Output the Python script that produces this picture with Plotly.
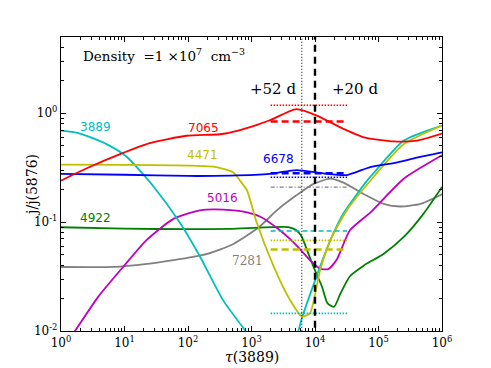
import plotly.graph_objects as go

# tau(3889) sample points and line ratios j/j(5876)
tau_7065 = [1, 2.5, 8.5, 25, 95, 320, 660, 1290, 1950, 5100, 10700, 25000, 59000, 174000, 400000, 1000000]
j_7065 = [0.24, 0.31, 0.42, 0.53, 0.62, 0.64, 0.70, 0.79, 0.86, 1.09, 0.95, 0.74, 0.60, 0.55, 0.56, 0.65]

tau_3889 = [1, 2, 5.2, 10.7, 29, 76, 155, 360, 830, 1600, 3200, 4500, 5500, 6200, 10000, 17400, 28000, 66000, 83000, 250000, 1000000]
j_3889 = [0.69, 0.65, 0.52, 0.40, 0.21, 0.097, 0.048, 0.019, 0.0098, 0.006, 0.005, 0.007, 0.0101, 0.013, 0.029, 0.068, 0.12, 0.24, 0.28, 0.56, 0.77]

tau_4471 = [1, 10, 100, 280, 520, 660, 850, 1200, 2240, 4100, 6200, 8300, 12000, 17400, 31600, 83000, 250000, 1000000]
j_4471 = [0.337, 0.335, 0.33, 0.32, 0.285, 0.24, 0.195, 0.10, 0.039, 0.019, 0.0136, 0.0145, 0.036, 0.068, 0.128, 0.258, 0.52, 0.77]

tau_6678 = [1, 10, 100, 460, 1950, 5100, 13500, 31600, 74000, 200000, 400000, 1000000]
j_6678 = [0.277, 0.272, 0.265, 0.267, 0.277, 0.30, 0.28, 0.27, 0.32, 0.354, 0.39, 0.436]

tau_5016 = [1, 1.66, 3.9, 9.5, 22, 59, 155, 360, 850, 1380, 2800, 5100, 8900, 12000, 16200, 21900, 35500, 74000, 250000, 1000000]
j_5016 = [0.0065, 0.01, 0.0208, 0.0387, 0.068, 0.107, 0.128, 0.13, 0.123, 0.112, 0.084, 0.0612, 0.043, 0.0374, 0.037, 0.045, 0.084, 0.122, 0.25, 0.41]

tau_4922 = [1, 10, 100, 460, 3800, 5100, 6200, 7900, 10000, 12900, 15800, 20000, 25100, 35500, 59000, 120000, 250000, 510000, 1000000]
j_4922 = [0.0896, 0.087, 0.086, 0.0866, 0.09, 0.084, 0.073, 0.051, 0.036, 0.0255, 0.0179, 0.0167, 0.022, 0.0318, 0.040, 0.051, 0.073, 0.119, 0.21]

tau_7281 = [1, 8.5, 59, 200, 520, 1290, 2500, 5100, 9500, 17400, 28000, 59000, 120000, 220000, 460000, 1000000]
j_7281 = [0.0387, 0.039, 0.0447, 0.051, 0.063, 0.089, 0.128, 0.176, 0.224, 0.25, 0.23, 0.18, 0.147, 0.139, 0.147, 0.18]

# observed ratios (horizontal bars) and epochs
obs_tau = [2000, 32000]
obs_7065_52d = 1.18
obs_7065_20d = 0.84
obs_6678_20d = 0.28
obs_6678_52d = 0.258
obs_7281 = 0.209
obs_3889_20d = 0.083
obs_4471_52d = 0.068
obs_4471_20d = 0.056
obs_3889_52d = 0.0145

tau_52d = 6200
tau_20d = 10000
y_span = [0.005, 10]

RED = "rgb(255,0,0)"
CYAN = "rgb(0,191,191)"
YEL = "rgb(191,191,0)"
BLUE = "rgb(0,0,255)"
MAG = "rgb(191,0,191)"
GRN = "rgb(0,128,0)"
GRY = "rgb(128,128,128)"

fig = go.Figure()

curves = [
    (tau_7281, j_7281, GRY),
    (tau_4922, j_4922, GRN),
    (tau_5016, j_5016, MAG),
    (tau_3889, j_3889, CYAN),
    (tau_4471, j_4471, YEL),
    (tau_6678, j_6678, BLUE),
    (tau_7065, j_7065, RED),
]
for t, j, c in curves:
    fig.add_trace(go.Scatter(x=t, y=j, mode="lines", line=dict(color=c, width=1.8, shape="spline", smoothing=0.6),
                             showlegend=False, hoverinfo="skip"))

bars = [
    (obs_7065_52d, RED, "1.5px,1.5px", 1.5),
    (obs_7065_20d, RED, "7px,4px", 2.5),
    (obs_6678_20d, BLUE, "7px,4px", 2.5),
    (obs_6678_52d, BLUE, "1.5px,1.5px", 1.5),
    (obs_7281, GRY, "4px,2px,1px,2px", 1.2),
    (obs_3889_20d, CYAN, "5px,3px", 1.5),
    (obs_4471_52d, YEL, "1.5px,1.5px", 1.8),
    (obs_4471_20d, YEL, "7px,4px", 2.5),
    (obs_3889_52d, CYAN, "1.5px,1.5px", 1.8),
]
for v, c, d, w in bars:
    fig.add_trace(go.Scatter(x=obs_tau, y=[v, v], mode="lines", line=dict(color=c, width=w, dash=d),
                             showlegend=False, hoverinfo="skip"))

fig.add_trace(go.Scatter(x=[tau_52d, tau_52d], y=y_span, mode="lines",
                         line=dict(color="black", width=1, dash="1px,2px"), showlegend=False, hoverinfo="skip"))
fig.add_trace(go.Scatter(x=[tau_20d, tau_20d], y=y_span, mode="lines",
                         line=dict(color="black", width=2.4, dash="7px,5px"), showlegend=False, hoverinfo="skip"))

sans = "DejaVu Sans"
serif = "DejaVu Serif"
labels = [
    ("3889", 0.544, -0.124, CYAN, sans),
    ("7065", 2.238, -0.134, RED, sans),
    ("4471", 2.23, -0.381, YEL, sans),
    ("6678", 3.42, -0.417, BLUE, sans),
    ("5016", 2.54, -0.783, MAG, sans),
    ("4922", 0.544, -0.966, GRN, sans),
    ("7281", 2.94, -1.36, GRY, serif),
]
for txt, lx, ly, c, f in labels:
    fig.add_annotation(x=lx, y=ly, text=txt, showarrow=False, font=dict(family=f, size=12, color=c))

fig.add_annotation(x=3.333, y=0.22, text="+52 d", showarrow=False, font=dict(family=serif, size=15, color="black"))
fig.add_annotation(x=4.634, y=0.22, text="+20 d", showarrow=False, font=dict(family=serif, size=15, color="black"))
fig.add_annotation(x=0.31, y=0.535, xanchor="left", showarrow=False,
                   text="Density  =1 ×10<sup>7</sup>  cm<sup>−3</sup>",
                   font=dict(family=serif, size=13.5, color="black"))

# axis titles placed by hand so they sit where the reference has them
fig.add_annotation(xref="paper", yref="paper", x=0.5, y=-0.088, xanchor="center", yanchor="middle",
                   text="<i>τ</i>(3889)", showarrow=False, font=dict(family=serif, size=14, color="black"))
fig.add_annotation(xref="paper", yref="paper", x=-0.076, y=0.497, xanchor="center", yanchor="middle",
                   text="j/j(5876)", textangle=-90, showarrow=False,
                   font=dict(family=serif, size=14, color="black"))

xt = [1, 10, 100, 1000, 10000, 100000, 1000000]
xl = ["10<sup>0</sup>", "10<sup>1</sup>", "10<sup>2</sup>", "10<sup>3</sup>", "10<sup>4</sup>", "10<sup>5</sup>", "10<sup>6</sup>"]
yt = [0.01, 0.1, 1]
yl = ["10<sup>-2</sup>", "10<sup>-1</sup>", "10<sup>0</sup>"]

axis_style = dict(showline=True, linecolor="black", linewidth=1.3, mirror="allticks", ticks="inside",
                  ticklen=5, tickcolor="black", showgrid=False, zeroline=False, automargin=False,
                  tickfont=dict(family=serif, size=12, color="black"),
                  minor=dict(ticks="inside", ticklen=2.5, tickcolor="black", dtick="D1", showgrid=False))

fig.update_xaxes(type="log", range=[0, 6], tickmode="array", tickvals=xt, ticktext=xl, **axis_style)
fig.update_yaxes(type="log", range=[-2, 0.699], tickmode="array", tickvals=yt, ticktext=yl, **axis_style)

# the page body adds an 8px offset, so the figure is a bit smaller than the window
fig.update_layout(width=475, height=360, margin=dict(l=53, r=41, t=29, b=37),
                  paper_bgcolor="white", plot_bgcolor="white", showlegend=False)

fig.write_html("out.html")
